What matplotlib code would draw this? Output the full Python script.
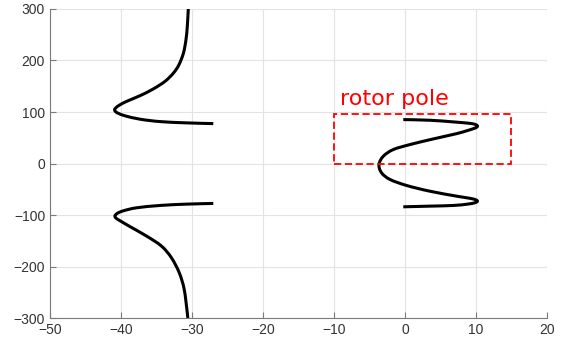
import numpy as np
import matplotlib.pyplot as plt
from matplotlib.patches import Rectangle, PathPatch
from matplotlib.path import Path

# upper stator branch
up_x = [-30.52, -30.66, -30.85, -31.2, -31.83, -32.6, -33.8, -35.45, -37.3, -39.2, -40.2, -40.7, -40.9, -40.75,
        -40.3, -39.4, -37.3, -34.5, -30.75, -27.0]
up_y = [300, 266, 240, 214.5, 191.9, 175.8, 159.5, 144.8, 131.8, 120.7, 113.5, 108.5, 104.5, 100.5,
        97, 92.5, 86, 81.4, 78.9, 77.5]
# lower stator branch
lo_x = [-27.0, -30.75, -34.5, -37.8, -39.6, -40.5, -40.85, -40.7, -40.2, -38.7, -36.4, -34.3, -32.9, -31.8, -31.1,
        -30.66, -30.6]
lo_y = [-77.5, -78.8, -81.4, -85.9, -91.5, -96.5, -101.5, -106, -110.5, -122.7, -140.8, -160.2, -182.8, -211.8, -244,
        -290, -300]
# rotor pole curve
rot_x = [-0.24, 3.52, 6.8, 8.9, 9.8, 10.2, 10.1, 9.6, 8.6, 7.3, 4.0, 0.7, -1.65, -3.05, -3.66, -3.3, -2.1, 0.23, 3.5,
         7.3, 9.1, 9.95, 10.2, 9.8, 8.8, 6.8, 3.5, -0.24]
rot_y = [85.3, 84, 80.8, 78.3, 76.3, 73.3, 70.5, 67.5, 63.2, 58.1, 47.8, 36.8, 27.1, 14.2, -1.9, -18, -31, -42.6, -53.7,
         -63.4, -67.4, -70.3, -73.3, -76.3, -78.8, -81.4, -82.7, -84]

box_x = [-10, 15]
box_y = [0, 97]


def smooth_path(xs, ys):
    # catmull-rom through the points, drawn as cubic bezier segments
    p = np.column_stack([xs, ys]).astype(float)
    p = np.vstack([p[0], p, p[-1]])
    verts = [p[1]]
    codes = [Path.MOVETO]
    for i in range(1, len(p) - 2):
        c1 = p[i] + (p[i + 1] - p[i - 1]) / 6
        c2 = p[i + 1] - (p[i + 2] - p[i]) / 6
        verts += [c1, c2, p[i + 1]]
        codes += [Path.CURVE4] * 3
    return Path(verts, codes)


plt.rcParams['font.family'] = ['Liberation Sans', 'DejaVu Sans']

fig = plt.figure(figsize=(5.68, 3.45), dpi=100)
ax = fig.add_axes([0.088, 0.078, 0.875, 0.896])

for xs, ys in [(up_x, up_y), (lo_x, lo_y), (rot_x, rot_y)]:
    ax.add_patch(PathPatch(smooth_path(xs, ys), fill=False, edgecolor='black', lw=2.2,
                           capstyle='butt', joinstyle='round'))

ax.add_patch(Rectangle((box_x[0], box_y[0]), box_x[1] - box_x[0], box_y[1] - box_y[0],
                       fill=False, edgecolor='red', ls=(0, (4, 2)), lw=1.3))
ax.text(-9.2, 113, 'rotor pole', color='red', fontsize=16, family='DejaVu Sans')

ax.set_xlim(-50, 20)
ax.set_ylim(-300, 300)
ax.set_xticks(range(-50, 21, 10))
ax.set_yticks(range(-300, 301, 100))
ax.grid(True, color='#e3e3e3', lw=0.8)
ax.set_axisbelow(True)
for s in ['top', 'right']:
    ax.spines[s].set_visible(False)
for s in ['left', 'bottom']:
    ax.spines[s].set_color('#7a7a7a')
ax.tick_params(direction='in', length=4, color='#7a7a7a', labelsize=10, labelcolor='#333333')

fig.savefig('out.png', dpi=100)
